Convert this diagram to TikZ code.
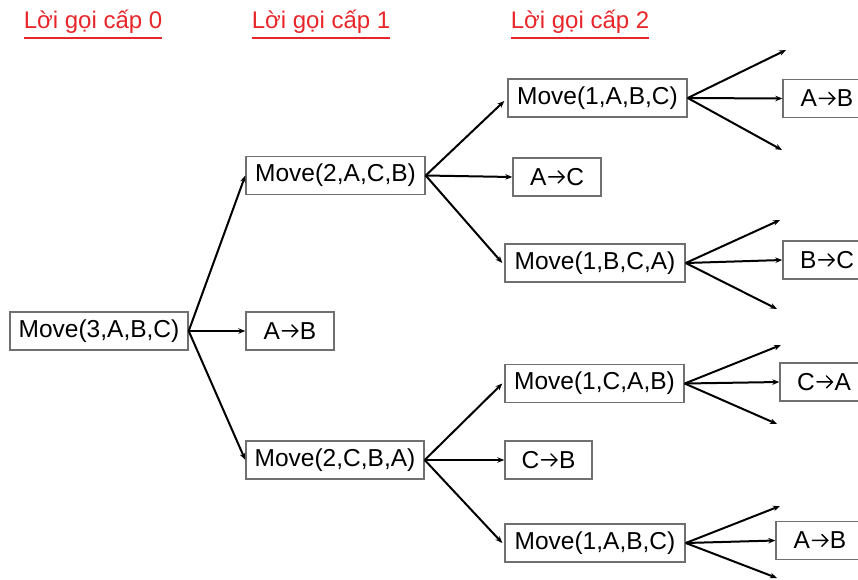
\documentclass[tikz,border=0pt]{standalone}
\usepackage{fontspec}
\setmainfont{Liberation Sans}
\usetikzlibrary{arrows.meta}
\newcommand{\ra}{\hspace{1.5pt}\tikz[baseline=0pt,x=1pt,y=1pt]{\draw[draw=black,line width=1.4pt,line cap=round,line join=miter] (0,8.5)--(15,8.5) (9.5,14.5)--(15.5,8.5)--(9.5,2.5);}\hspace{1.5pt}}
\definecolor{hdrred}{HTML}{E8262A}
\definecolor{boxgray}{HTML}{707070}
\tikzset{
  box/.style={draw=boxgray, line width=1.4pt, minimum height=38pt, inner sep=0pt,
              font=\fontsize{24.5}{24.5}\selectfont, anchor=center},
  mv/.style={box, minimum width=179pt},
  sm/.style={box, minimum width=88pt},
  arr/.style={draw=black, line width=2pt, -{Stealth[length=7pt,width=5.5pt]}},
  hdr/.style={text=hdrred, font=\fontsize{24}{24}\selectfont, inner sep=0pt}
}
\begin{document}
\begin{tikzpicture}[x=1pt,y=-1pt]
\useasboundingbox (0,0) rectangle (858,579);
% headers
\node[hdr] (h0) at (93,22) {Lời gọi cấp 0};
\node[hdr] (h1) at (321,22) {Lời gọi cấp 1};
\node[hdr] (h2) at (580,22) {Lời gọi cấp 2};
\foreach \h in {h0,h1,h2}
  \draw[hdrred, line width=1.4pt] ([yshift=-4pt]\h.south west) -- ([yshift=-4pt]\h.south east);
% level 0
\node[mv, minimum width=178pt] (m0) at (99,331) {Move(3,A,B,C)};
% level 1
\node[mv] (m1) at (335.5,175.5) {Move(2,A,C,B)};
\node[sm] (a0) at (290,331) {A\ra B};
\node[mv, minimum width=178pt] (m2) at (335,460) {Move(2,C,B,A)};
% level 2
\node[mv] (m11) at (597.5,98) {Move(1,A,B,C)};
\node[sm] (a11) at (557,177) {A\ra C};
\node[mv, minimum width=180pt] (m12) at (595,263) {Move(1,B,C,A)};
\node[mv] (m21) at (594.5,383.5) {Move(1,C,A,B)};
\node[sm, minimum width=87pt] (a21) at (548.5,460) {C\ra B};
\node[mv, minimum width=180pt] (m22) at (595,543) {Move(1,A,B,C)};
% right column
\node[sm] (r1) at (827,98.5) {A\ra B};
\node[sm] (r2) at (827,260) {B\ra C};
\node[sm] (r3) at (824,382) {C\ra A};
\node[sm] (r4) at (820,540.5) {A\ra B};
% dangling endpoints
\coordinate (u1) at (786,50);  \coordinate (d1) at (782,150);
\coordinate (u2) at (780,220); \coordinate (d2) at (777,309);
\coordinate (u3) at (781,345); \coordinate (d3) at (777,424);
\coordinate (u4) at (780,506); \coordinate (d4) at (777,578);
% connectors level 0 -> 1
\draw[arr] (m0.east) -- (m1.west);
\draw[arr] (m0.east) -- (a0.west);
\draw[arr] (m0.east) -- (m2.west);
% level 1 -> 2
\draw[arr] (m1.east) -- ([xshift=-3pt,yshift=-3pt]m11.west);
\draw[arr] (m1.east) -- (a11.west);
\draw[arr] (m1.east) -- ([xshift=-2pt]m12.west);
\draw[arr] (m2.east) -- ([xshift=-2pt]m21.west);
\draw[arr] (m2.east) -- (a21.west);
\draw[arr] (m2.east) -- ([xshift=-2pt]m22.west);
% level 2 -> right
\draw[arr] (m11.east) -- (u1);
\draw[arr] (m11.east) -- (r1.west);
\draw[arr] (m11.east) -- (d1);
\draw[arr] (m12.east) -- (u2);
\draw[arr] (m12.east) -- (r2.west);
\draw[arr] (m12.east) -- (d2);
\draw[arr] (m21.east) -- (u3);
\draw[arr] (m21.east) -- (r3.west);
\draw[arr] (m21.east) -- (d3);
\draw[arr] (m22.east) -- (u4);
\draw[arr] (m22.east) -- (r4.west);
\draw[arr] (m22.east) -- (d4);
\end{tikzpicture}
\end{document}
